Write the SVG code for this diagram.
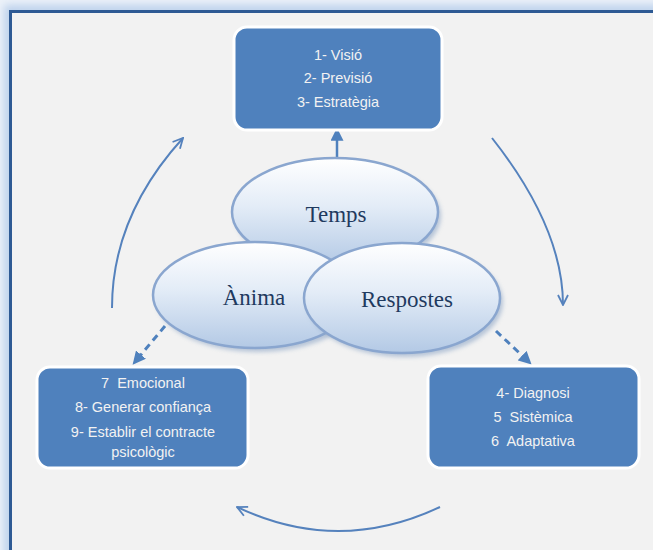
<svg xmlns="http://www.w3.org/2000/svg" width="653" height="550" viewBox="0 0 653 550">
<defs>
<style>
.box{fill:#4f81bd;stroke:#ffffff;stroke-width:3;}
.bt{font-family:"Liberation Sans",Arial,sans-serif;font-size:14.5px;fill:#f2f2f2;text-anchor:middle;white-space:pre;}
.et{font-family:"Liberation Serif","Times New Roman",serif;font-size:23px;fill:#1f3a5f;text-anchor:middle;}
.ell{fill:url(#eg);stroke:#8aa6cf;stroke-width:2.5;}
.curve{fill:none;stroke:#5582bd;stroke-width:2;}
.dash{fill:none;stroke:#4f81bd;stroke-width:3;stroke-dasharray:7 5;}
</style>
<linearGradient id="eg" x1="0" y1="0" x2="0" y2="1">
<stop offset="0" stop-color="#ffffff"/>
<stop offset="0.45" stop-color="#e3ecf7"/>
<stop offset="1" stop-color="#b3c9e5"/>
</linearGradient>
<filter id="blur" x="-20%" y="-20%" width="140%" height="140%"><feGaussianBlur stdDeviation="4"/></filter>
<filter id="sh" x="-20%" y="-20%" width="140%" height="140%"><feGaussianBlur stdDeviation="2"/></filter>
<marker id="open" viewBox="0 0 12 12" refX="11" refY="6" markerWidth="12" markerHeight="12" markerUnits="userSpaceOnUse" orient="auto">
<path d="M1,1 L11,6 L1,11" fill="none" stroke="#5582bd" stroke-width="1.8"/>
</marker>
<marker id="tri" viewBox="0 0 12 12" refX="10" refY="6" markerWidth="13" markerHeight="13" markerUnits="userSpaceOnUse" orient="auto">
<path d="M0,0 L12,6 L0,12 Z" fill="#4f81bd"/>
</marker>
</defs>
<rect width="653" height="550" fill="#edf2f9"/>
<rect x="10" y="11" width="720" height="620" fill="none" stroke="#bcd1ec" stroke-width="12" filter="url(#blur)"/>
<rect x="10.5" y="11.5" width="720" height="620" fill="#f2f2f2" stroke="#2e5a94" stroke-width="3"/>

<g id="connectors">
<path class="curve" d="M492,138 Q563,228 563,305" marker-end="url(#open)"/>
<path class="curve" d="M440,507 Q338,555 237,507" marker-end="url(#open)"/>
<path class="curve" d="M112,308 Q112,216 183,138" marker-end="url(#open)"/>
<line x1="337" y1="158" x2="337" y2="130" stroke="#4f81bd" stroke-width="2.5" marker-end="url(#tri)"/>
<line class="dash" x1="165" y1="326" x2="134" y2="363" marker-end="url(#tri)"/>
<line class="dash" x1="496" y1="331" x2="530" y2="363" marker-end="url(#tri)"/>
</g>

<g id="box-top">
<rect x="234" y="27" width="208" height="103" rx="13" class="box"/>
<text class="bt" x="338" y="60">1- Visió</text>
<text class="bt" x="338" y="83">2- Previsió</text>
<text class="bt" x="338" y="107">3- Estratègia</text>
</g>

<g id="box-left">
<rect x="37" y="367" width="211" height="101" rx="13" class="box"/>
<text class="bt" x="143" y="388">7  Emocional</text>
<text class="bt" x="143" y="412">8- Generar confiança</text>
<text class="bt" x="143" y="437">9- Establir el contracte</text>
<text class="bt" x="143" y="457">psicològic</text>
</g>

<g id="box-right">
<rect x="428" y="366" width="211" height="102" rx="13" class="box"/>
<text class="bt" x="533" y="398">4- Diagnosi</text>
<text class="bt" x="533" y="422">5  Sistèmica</text>
<text class="bt" x="533" y="446">6  Adaptativa</text>
</g>

<g id="ell-temps">
<ellipse cx="338" cy="216" rx="103" ry="54" fill="#8ea6c6" opacity="0.6" filter="url(#sh)"/>
<ellipse cx="335" cy="212" rx="103" ry="54" class="ell"/>
<text class="et" x="336" y="222">Temps</text>
</g>

<g id="ell-anima">
<ellipse cx="258" cy="299" rx="102" ry="53" fill="#8ea6c6" opacity="0.6" filter="url(#sh)"/>
<ellipse cx="255" cy="295" rx="102" ry="53" class="ell"/>
<text class="et" x="254" y="305">Ànima</text>
</g>

<g id="ell-respostes">
<ellipse cx="405" cy="302" rx="98" ry="55" fill="#8ea6c6" opacity="0.6" filter="url(#sh)"/>
<ellipse cx="402" cy="298" rx="98" ry="55" class="ell"/>
<text class="et" x="407" y="307">Respostes</text>
</g>
</svg>
